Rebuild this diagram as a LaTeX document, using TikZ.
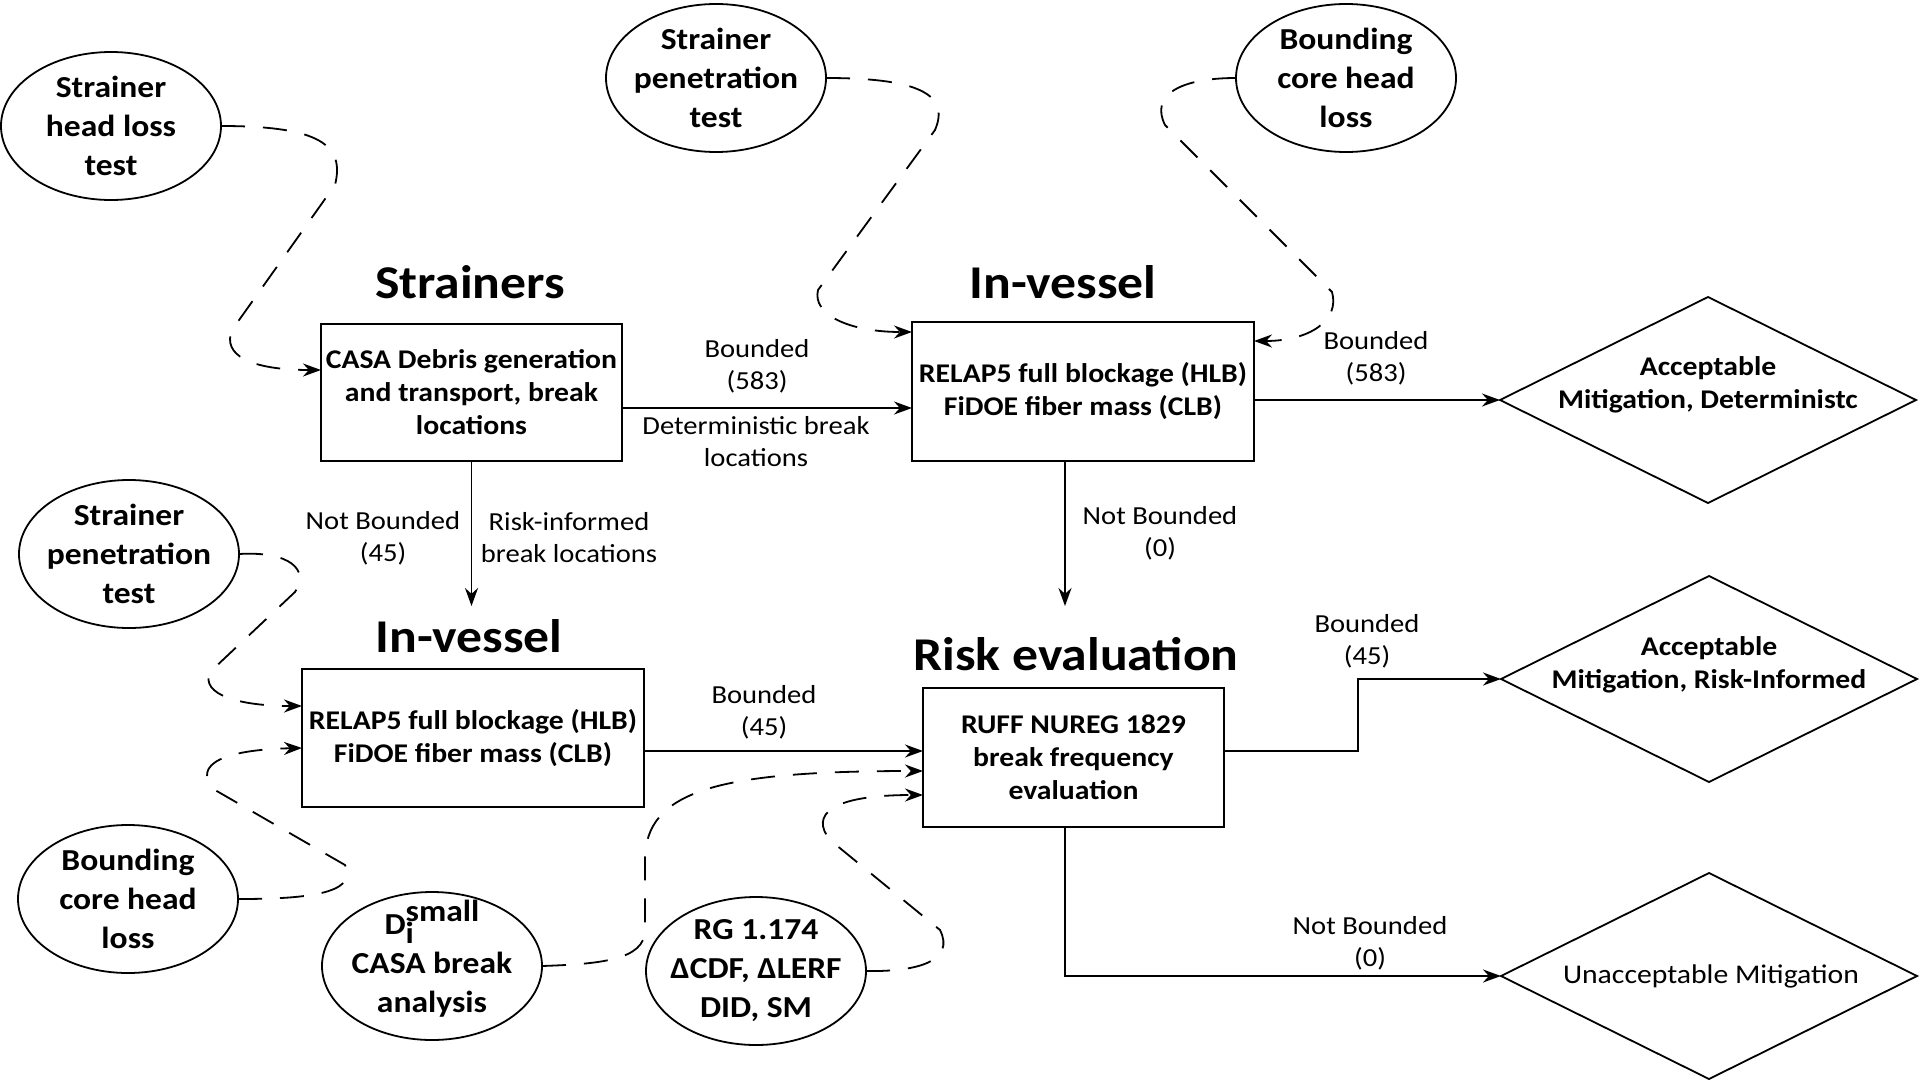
\documentclass[tikz,border=0pt]{standalone}
\usepackage{fontspec}
\setmainfont{Carlito}[FakeStretch=1.1]
\usetikzlibrary{arrows.meta,shapes.geometric}
\begin{document}
\begin{tikzpicture}[x=1pt,y=-1pt,
  every node/.style={inner sep=0pt,outer sep=0pt},
  box/.style={draw,line width=2.2pt,align=center,font=\fontsize{27}{33}\selectfont\bfseries},
  ell/.style={draw,ellipse,line width=1.8pt,inner xsep=-14pt,inner ysep=-12pt,minimum width=220pt,minimum height=148pt,align=center,font=\fontsize{30.5}{39}\selectfont\bfseries},
  dia/.style={draw,diamond,line width=1.8pt,minimum width=416pt,minimum height=206pt},
  ttl/.style={anchor=base,font=\fontsize{47}{52}\selectfont\bfseries},
  lbl/.style={align=center,font=\fontsize{26}{32}\selectfont},
  dtxt/.style={align=center,font=\fontsize{27}{33}\selectfont\bfseries},
  arr/.style={line width=1.8pt,-{Stealth[length=18pt,width=13pt]}},
  darr/.style={arr,dash pattern=on 24pt off 18pt}
]
\useasboundingbox (0,0) rectangle (1921,1081);
\fill[white] (0,0) rectangle (1921,1081);

% titles
\node[ttl] (t1) at (470,298) {Strainers};
\node[ttl] (t2) at (1063,298) {In-vessel};
\node[ttl] (t3) at (469,652) {In-vessel};
\node[ttl] (t4) at (1076,670) {Risk evaluation};

% boxes
\node[box,minimum width=301pt,minimum height=137pt] (strB) at (471.5,392.5) {CASA Debris generation\\and transport, break\\locations};
\node[box,minimum width=342pt,minimum height=139pt] (iv1) at (1083,391.5) {RELAP5 full blockage (HLB)\\FiDOE fiber mass (CLB)};
\node[box,minimum width=342pt,minimum height=138pt] (iv2) at (473,738) {RELAP5 full blockage (HLB)\\FiDOE fiber mass (CLB)};
\node[box,minimum width=301pt,minimum height=139pt] (risk) at (1073.5,757.5) {RUFF NUREG 1829\\break frequency\\evaluation};

% ellipses
\node[ell] (shl) at (111,126) {Strainer\\head loss\\test};
\node[ell] (spt) at (716,78) {Strainer\\penetration\\test};
\node[ell] (bch) at (1346,78) {Bounding\\core head\\loss};
\node[ell] (spt2) at (129,554) {Strainer\\penetration\\test};
\node[ell] (bch2) at (128,899) {Bounding\\core head\\loss};
\node[ell] (dsm) at (432,966) {D\rlap{\raisebox{-0.3em}{i}}\smash{\raisebox{0.42em}{small}}\\CASA break\\analysis};
\node[ell] (rg) at (756,971) {RG 1.174\\ΔCDF, ΔLERF\\DID, SM};

% diamonds
\node[dia] (d1) at (1708,400) {};
\node[dia] (d2) at (1709,679) {};
\node[dia] (d3) at (1709,976) {};
\node[dtxt] (d1t) at (1708,385) {Acceptable\\Mitigation, Deterministc};
\node[dtxt] (d2t) at (1709,665) {Acceptable\\Mitigation, Risk-Informed};
\node[lbl,font=\fontsize{27}{33}\selectfont] (d3t) at (1711,976) {Unacceptable Mitigation};

% edge labels
\node[lbl] (l1) at (757,366) {Bounded\\(583)};
\node[lbl] (l2) at (756,442) {Deterministic break\\locations};
\node[lbl] (l3) at (1376,358) {Bounded\\(583)};
\node[lbl] (l4) at (383,538) {Not Bounded\\(45)};
\node[lbl] (l5) at (569,538) {Risk-informed\\break locations};
\node[lbl] (l6) at (1160,533) {Not Bounded\\(0)};
\node[lbl] (l7) at (764,712) {Bounded\\(45)};
\node[lbl] (l8) at (1367,641) {Bounded\\(45)};
\node[lbl] (l9) at (1370,943) {Not Bounded\\(0)};

% free ends
\coordinate (tipA) at (471.5,606);
\coordinate (tipB) at (1065,606);

% solid connectors
\draw[arr] (strB.east |- 0,408) -- (iv1.west |- 0,408);
\draw[arr] (iv1.east |- d1.west) -- (d1.west);
\draw[arr] (strB.south) -- (tipA);
\draw[arr] (iv1.south -| tipB) -- (tipB);
\draw[arr] (iv2.east |- 0,751) -- (risk.west |- 0,751);
\draw[arr] (risk.east |- 0,751) -- (1358,751) |- (d2.west);
\draw[arr] (risk.south -| tipB) |- (d3.west);

% dashed connectors
\draw[darr] (shl.east) .. controls (320,126) and (345,145) .. (335,185) -- (232,330) .. controls (222,355) and (250,370) .. (strB.west |- 0,370);
\draw[darr] (spt.east) .. controls (920,78) and (950,95) .. (935,130) -- (818,290) .. controls (812,315) and (850,332) .. (iv1.west |- 0,332);
\draw[darr] (bch.west) .. controls (1180,78) and (1150,95) .. (1165,125) -- (1332,292) .. controls (1340,320) and (1310,341) .. (iv1.east |- 0,341);
\draw[darr] (spt2.east) .. controls (290,551) and (310,570) .. (295,592) -- (210,672) .. controls (200,695) and (240,706) .. (iv2.west |- 0,706);
\draw[darr] (bch2.east) .. controls (300,899) and (360,895) .. (345,865) -- (215,790) .. controls (195,770) and (210,750) .. (iv2.west |- 0,748);
\draw[darr] (dsm.east) .. controls (600,964) and (645,960) .. (645,930) -- (645,860) .. controls (645,790) and (720,771) .. (risk.west |- 0,771);
\draw[darr] (rg.east) .. controls (920,972) and (955,960) .. (940,930) -- (830,840) .. controls (810,815) and (830,795) .. (risk.west |- 0,795);
\end{tikzpicture}
\end{document}
